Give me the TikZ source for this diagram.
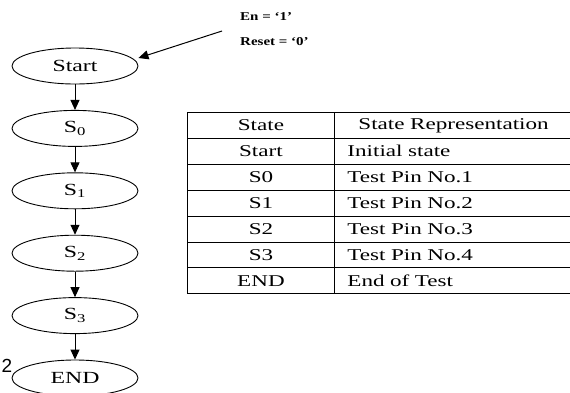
\documentclass[tikz,border=0pt]{standalone}
\usepackage{fontspec}
\setmainfont{Liberation Serif}
\newfontfamily\statefont[FakeStretch=1.4]{Liberation Serif}
\newfontfamily\sigfont[FakeStretch=1.25]{Liberation Serif Bold}
\newfontfamily\numfont{Liberation Sans}
\usetikzlibrary{positioning}
\usetikzlibrary{shapes.geometric}
\usetikzlibrary{arrows.meta}
\usetikzlibrary{matrix}
\tikzset{state/.style={draw,ellipse,line width=0.9pt,minimum width=126pt,minimum height=36pt,inner sep=0pt,
                font=\statefont\fontsize{17}{17}\selectfont},
         flow/.style={line width=1pt,-{Triangle[length=10pt,width=9pt]}},
         signal/.style={font=\sigfont\fontsize{12}{12}\selectfont,anchor=west,inner sep=0pt},
         statetab/.style={matrix of nodes,inner sep=0pt,outer sep=0pt,row sep=-0.9pt,column sep=-0.9pt,
                nodes={draw,line width=0.9pt,minimum height=25.9pt,inner sep=0pt,outer sep=0pt,
                font=\statefont\fontsize{16.5}{16.5}\selectfont,anchor=center},
                column 1/.style={nodes={minimum width=147pt}},
                column 2/.style={nodes={inner xsep=13pt,text width=290pt,align=left}}},
         }

\begin{document}
\begin{tikzpicture}[x=1pt,y=-1pt,node distance=25.5pt]
		\clip (0,0) rectangle (570,392);
		\node[state] (start) at (75,66) {Start};
		\node[state,below=of start] (s0) {S\textsubscript{0}};
		\node[state,below=of s0] (s1) {S\textsubscript{1}};
		\node[state,below=of s1] (s2) {S\textsubscript{2}};
		\node[state,below=of s2] (s3) {S\textsubscript{3}};
		\node[state,below=of s3] (end) {END};
		\foreach \a/\b in {start/s0,s0/s1,s1/s2,s2/s3,s3/end}
			\draw[flow] (\a) -- (\b);
		\node[signal] (en) at (240,17) {En = ‘1’};
		\node[signal] (reset) at (240,42) {Reset = ‘0’};
		\coordinate (inp) at (222,31);
		\draw[flow] (inp) -- ([yshift=8pt]start.east);
		\node[font=\numfont\fontsize{19}{19}\selectfont,inner sep=0pt] (fig) at (7,366) {2};
		\matrix[statetab,anchor=north west] (tab) at (187,112) {
			State & \hspace{11pt}State Representation \\
			Start & Initial state \\
			S0 & Test Pin No.1 \\
			S1 & Test Pin No.2 \\
			S2 & Test Pin No.3 \\
			S3 & Test Pin No.4 \\
			END & End of Test \\
		};
\end{tikzpicture}
\end{document}
